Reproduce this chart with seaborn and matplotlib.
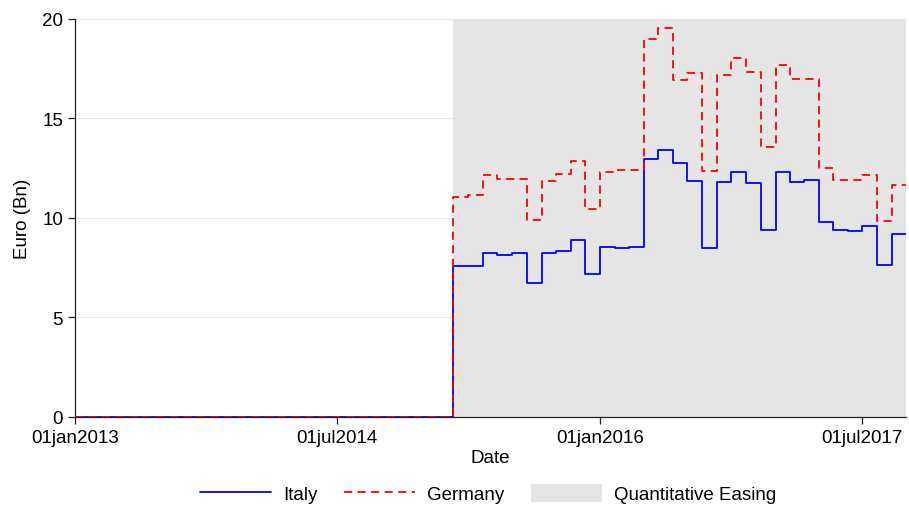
import pandas as pd
import matplotlib.pyplot as plt
import seaborn as sns
from matplotlib.lines import Line2D
from matplotlib.patches import Patch

# Monthly purchases (Euro Bn), Jan 2013 - Sep 2017
months = pd.date_range('2013-01-01', '2017-09-01', freq='MS')
end_date = pd.Timestamp('2017-09-30')
qe_start = pd.Timestamp('2015-03-01')

italy = [0, 0, 0, 0, 0, 0, 0, 0, 0, 0, 0, 0,        # 2013
         0, 0, 0, 0, 0, 0, 0, 0, 0, 0, 0, 0,        # 2014
         0, 0, 7.59, 7.59, 8.22, 8.16, 8.24, 6.72, 8.22, 8.36, 8.89, 7.19,   # 2015
         8.56, 8.51, 8.54, 12.98, 13.43, 12.76, 11.88, 8.48, 11.81, 12.33, 11.74, 9.41,  # 2016
         12.30, 11.79, 11.89, 9.78, 9.41, 9.33, 9.61, 7.65, 9.20]   # 2017
germany = [0, 0, 0, 0, 0, 0, 0, 0, 0, 0, 0, 0,
           0, 0, 0, 0, 0, 0, 0, 0, 0, 0, 0, 0,
           0, 0, 11.04, 11.15, 12.16, 11.96, 11.96, 9.92, 11.85, 12.21, 12.88, 10.45,
           12.33, 12.43, 12.43, 19.00, 19.55, 16.93, 17.27, 12.38, 17.19, 18.02, 17.32, 13.58,
           17.70, 16.98, 16.98, 12.50, 11.93, 11.93, 12.18, 9.83, 11.68]

# repeat the last month up to the end of the axis so the step is drawn
df = pd.DataFrame({'Date': list(months) + [end_date],
                   'Italy': italy + [italy[-1]],
                   'Germany': germany + [germany[-1]]})

sns.set_theme(style='white')
plt.rcParams['font.family'] = ['Liberation Sans', 'DejaVu Sans']
plt.rcParams['text.color'] = 'black'
plt.rcParams['axes.labelcolor'] = 'black'
plt.rcParams['xtick.color'] = 'black'
plt.rcParams['ytick.color'] = 'black'

fig = plt.figure(figsize=(9.09, 5.10), dpi=100)
ax = fig.add_axes([0.0825, 0.1804, 0.9142, 0.7804])

ax.grid(axis='y', color='#e4eaea', linewidth=0.8)
ax.set_axisbelow(True)
ax.axvspan(qe_start, end_date, color='#e5e5e5', lw=0, zorder=1)

sns.lineplot(data=df, x='Date', y='Italy', ax=ax, color='#0000ff',
             linewidth=1.3, drawstyle='steps-post', zorder=3)
sns.lineplot(data=df, x='Date', y='Germany', ax=ax, color='#ff0000',
             linewidth=1.3, drawstyle='steps-post', linestyle='--', zorder=3)
ax.lines[-1].set_dashes((4.5, 3))

ax.set_xlim(pd.Timestamp('2013-01-01'), end_date)
ax.set_ylim(0, 20)
ticks = pd.to_datetime(['2013-01-01', '2014-07-01', '2016-01-01', '2017-07-01'])
ax.set_xticks(ticks)
ax.set_xticklabels(['01jan2013', '01jul2014', '01jan2016', '01jul2017'])
ax.set_yticks([0, 5, 10, 15, 20])

ax.tick_params(axis='both', labelsize=13.5, direction='out', length=5,
               width=0.9, color='#222222', bottom=True, left=True)
ax.set_xlabel('Date', fontsize=13.5, labelpad=2)
ax.set_ylabel('Euro (Bn)', fontsize=13.5, labelpad=8)

for side in ['top', 'right']:
    ax.spines[side].set_visible(False)
for side in ['left', 'bottom']:
    ax.spines[side].set_color('#222222')
    ax.spines[side].set_linewidth(0.9)

handles = [Line2D([0], [0], color='#0000ff', lw=1.3),
           Line2D([0], [0], color='#ff0000', lw=1.3, dashes=(4.5, 3)),
           Patch(facecolor='#e5e5e5', edgecolor='none')]
fig.legend(handles, ['Italy', 'Germany', 'Quantitative Easing'],
           loc='center', bbox_to_anchor=(0.537, 0.03), ncol=3, frameon=False,
           fontsize=13.5, handlelength=3.8, handleheight=1.1, handletextpad=0.65,
           columnspacing=1.4)

plt.savefig('out.png', dpi=100)
